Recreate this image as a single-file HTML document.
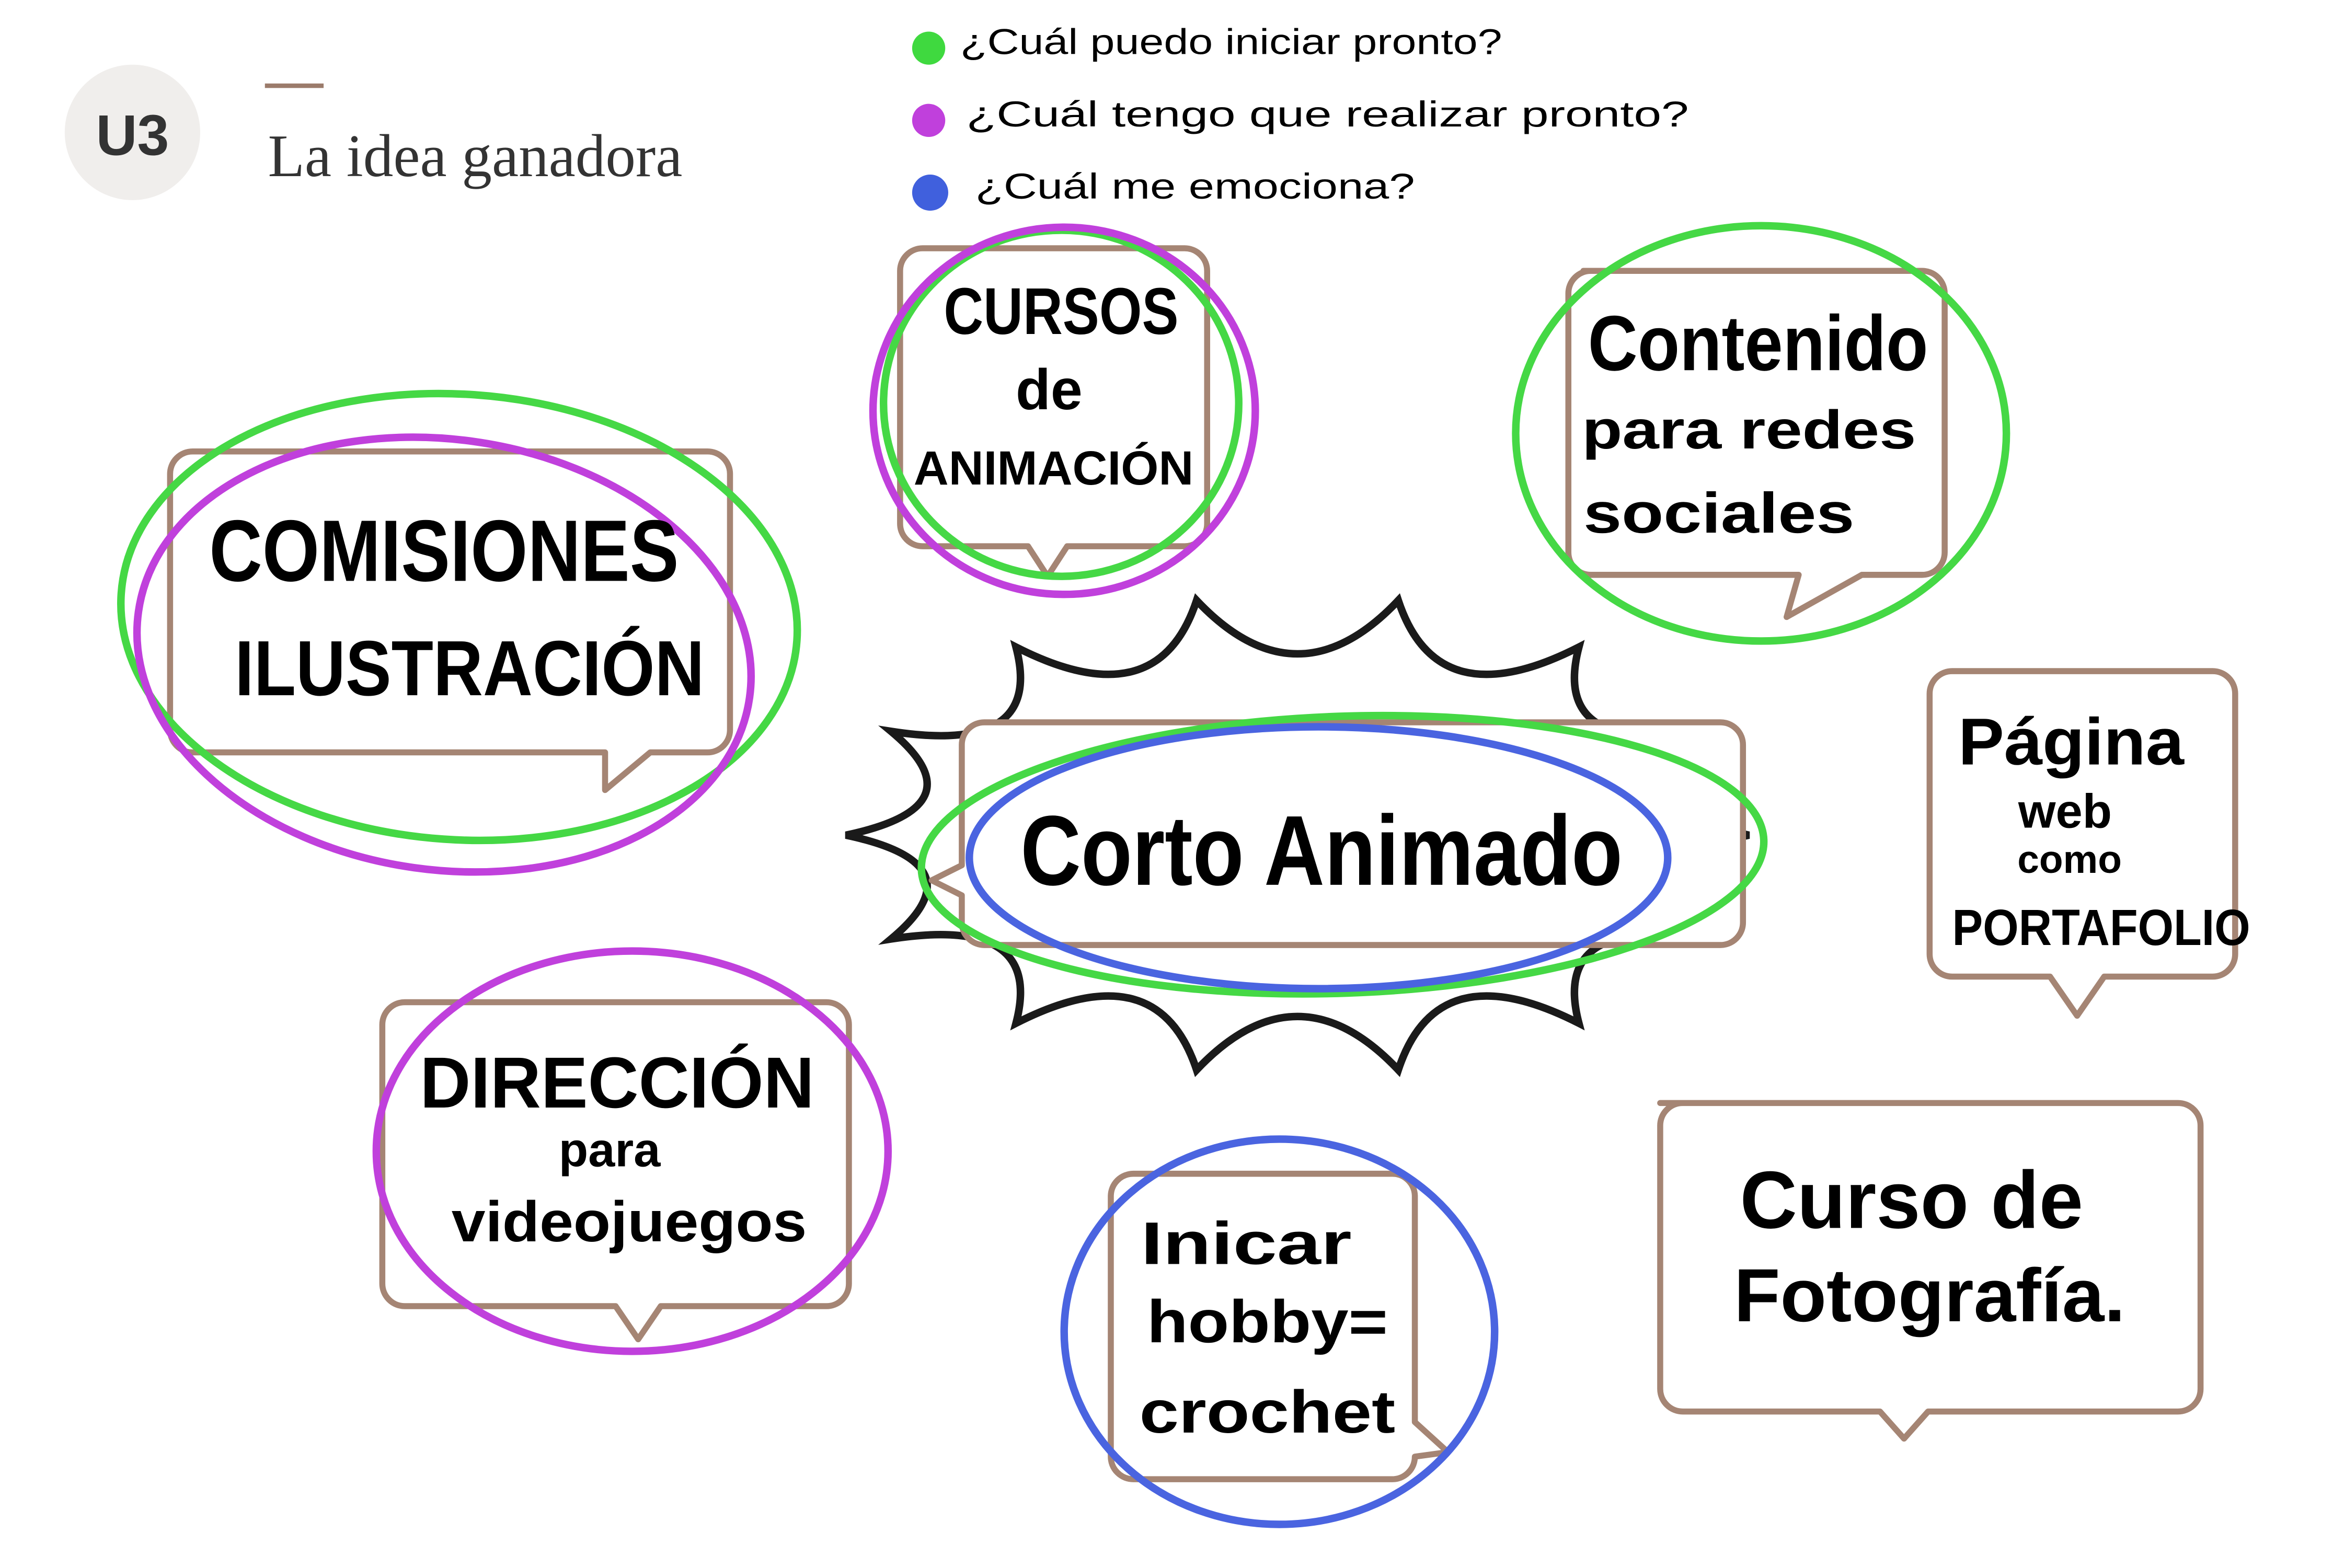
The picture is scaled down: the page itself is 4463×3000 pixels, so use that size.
<!DOCTYPE html>
<html><head><meta charset="utf-8"><style>
html,body{margin:0;padding:0;background:#fff;}
svg{display:block;}
.h{font-family:"Liberation Sans","DejaVu Sans",sans-serif;font-weight:bold;fill:#000;text-anchor:middle;}
.l{font-family:"Liberation Sans Narrow","Liberation Sans",sans-serif;fill:#000;font-size:24px;}
.box{fill:#fff;stroke:#a58574;stroke-width:4;stroke-linejoin:round;}
.e{fill:none;stroke-width:5;}
</style></head><body>
<svg width="4463" height="3000" viewBox="0 0 1550 1042" preserveAspectRatio="none" xmlns="http://www.w3.org/2000/svg">
<rect width="1550" height="1042" fill="#fff"/>
<!-- header -->
<circle cx="88" cy="88" r="45" fill="#f0eeec"/>
<text x="88" y="103" font-family="Liberation Sans,sans-serif" font-weight="bold" font-size="38" fill="#333" text-anchor="middle">U3</text>
<line x1="176" y1="57" x2="215" y2="57" stroke="#9b7b6b" stroke-width="3"/>
<text x="178" y="117" font-family="Liberation Serif,serif" font-size="40" fill="#333">La idea ganadora</text>
<!-- legend -->
<ellipse cx="617" cy="32" rx="11" ry="11" fill="#3fd93f"/>
<ellipse cx="617" cy="80" rx="11" ry="11" fill="#c040dc"/>
<ellipse cx="618" cy="128" rx="12" ry="12" fill="#4060dd"/>
<text class="l" x="638" y="36" textLength="360" lengthAdjust="spacingAndGlyphs">¿Cuál puedo iniciar pronto?</text>
<text class="l" x="642" y="84" textLength="480" lengthAdjust="spacingAndGlyphs">¿Cuál tengo que realizar pronto?</text>
<text class="l" x="648" y="132" textLength="292" lengthAdjust="spacingAndGlyphs">¿Cuál me emociona?</text>

<!-- starburst -->
<path d="M1162,555 Q1072,574 1132,624 Q1030,608 1049,680 Q955,632 929,711 Q862,640 795,711 Q769,632 675,680 Q694,608 592,624 Q652,574 562,555 Q652,536 592,486 Q694,502 675,430 Q769,478 795,399 Q862,470 929,399 Q955,478 1049,430 Q1030,502 1132,486 Q1072,536 1162,555 Z" fill="none" stroke="#1a1a1a" stroke-width="5" stroke-linejoin="miter"/>

<!-- boxes -->
<path class="box" d="M613,165 h174 a15,15 0 0 1 15,15 v168 a15,15 0 0 1 -15,15 h-78 l-13,20 l-13,-20 h-70 a15,15 0 0 1 -15,-15 v-168 a15,15 0 0 1 15,-15z"/>
<path class="box" d="M128,300 h342 a15,15 0 0 1 15,15 v170 a15,15 0 0 1 -15,15 h-38 l-30,25 v-25 h-274 a15,15 0 0 1 -15,-15 v-170 a15,15 0 0 1 15,-15z"/>
<path class="box" d="M1052,180 h225 a15,15 0 0 1 15,15 v172 a15,15 0 0 1 -15,15 h-40 l-50,28 l8,-28 h-138 a15,15 0 0 1 -15,-15 v-172 a15,15 0 0 1 15,-15z"/>
<path class="box" d="M654,480 h489 a15,15 0 0 1 15,15 v118 a15,15 0 0 1 -15,15 h-489 a15,15 0 0 1 -15,-15 v-18 l-20,-10 l20,-10 v-80 a15,15 0 0 1 15,-15z"/>
<path class="box" d="M1297,446 h173 a15,15 0 0 1 15,15 v173 a15,15 0 0 1 -15,15 h-72 l-18,26 l-18,-26 h-65 a15,15 0 0 1 -15,-15 v-173 a15,15 0 0 1 15,-15z"/>
<path class="box" d="M269,666 h280 a15,15 0 0 1 15,15 v172 a15,15 0 0 1 -15,15 h-110 l-15,22 l-15,-22 h-140 a15,15 0 0 1 -15,-15 v-172 a15,15 0 0 1 15,-15z"/>
<path class="box" d="M753,780 h172 a15,15 0 0 1 15,15 v150 l22,20 l-22,3 v0 a15,15 0 0 1 -15,15 h-172 a15,15 0 0 1 -15,-15 v-173 a15,15 0 0 1 15,-15z"/>
<path class="box" d="M1103,733 h344 a15,15 0 0 1 15,15 v175 a15,15 0 0 1 -15,15 h-166 l-16,18 l-16,-18 h-131 a15,15 0 0 1 -15,-15 v-175 a15,15 0 0 1 15,-15z"/>

<!-- ellipses -->
<ellipse class="e" cx="705" cy="268" rx="118" ry="115" stroke="#45d845"/>
<ellipse class="e" cx="707" cy="273" rx="127" ry="122" stroke="#c040dc"/>
<ellipse class="e" cx="305" cy="410" rx="225" ry="148" stroke="#45d845" transform="rotate(4 305 410)"/>
<ellipse class="e" cx="295" cy="435" rx="205" ry="143" stroke="#c040dc" transform="rotate(8 295 435)"/>
<ellipse class="e" cx="1170" cy="288" rx="163" ry="138" stroke="#45d845"/>
<ellipse class="e" cx="892" cy="568" rx="280" ry="92" stroke="#45d845" transform="rotate(-2 892 568)"/>
<ellipse class="e" cx="876" cy="570" rx="232" ry="87" stroke="#4a64e0"/>
<ellipse class="e" cx="420" cy="765" rx="170" ry="133" stroke="#c040dc"/>
<ellipse class="e" cx="850" cy="885" rx="143" ry="128" stroke="#4a64e0"/>

<!-- text -->
<text class="h" x="705" y="222" font-size="44" textLength="156" lengthAdjust="spacingAndGlyphs">CURSOS</text>
<text class="h" x="697" y="272" font-size="38">de</text>
<text class="h" x="700" y="322" font-size="32" textLength="186" lengthAdjust="spacingAndGlyphs">ANIMACIÓN</text>
<text class="h" x="295" y="386" font-size="58" textLength="312" lengthAdjust="spacingAndGlyphs">COMISIONES</text>
<text class="h" x="312" y="462" font-size="52" textLength="312" lengthAdjust="spacingAndGlyphs">ILUSTRACIÓN</text>
<text class="h" x="1168" y="246" font-size="52" textLength="226" lengthAdjust="spacingAndGlyphs">Contenido</text>
<text class="h" x="1162" y="298" font-size="36" textLength="222" lengthAdjust="spacingAndGlyphs">para redes</text>
<text class="h" x="1142" y="354" font-size="38" textLength="180" lengthAdjust="spacingAndGlyphs">sociales</text>
<text class="h" x="878" y="588" font-size="66" textLength="400" lengthAdjust="spacingAndGlyphs">Corto Animado</text>
<text class="h" x="1376" y="508" font-size="44" textLength="150" lengthAdjust="spacingAndGlyphs">Página</text>
<text class="h" x="1372" y="550" font-size="32">web</text>
<text class="h" x="1375" y="580" font-size="26">como</text>
<text class="h" x="1396" y="628" font-size="34" textLength="198" lengthAdjust="spacingAndGlyphs">PORTAFOLIO</text>
<text class="h" x="410" y="736" font-size="48" textLength="262" lengthAdjust="spacingAndGlyphs">DIRECCIÓN</text>
<text class="h" x="405" y="775" font-size="32">para</text>
<text class="h" x="418" y="825" font-size="38" textLength="236" lengthAdjust="spacingAndGlyphs">videojuegos</text>
<text class="h" x="828" y="840" font-size="40" textLength="140" lengthAdjust="spacingAndGlyphs">Inicar</text>
<text class="h" x="842" y="892" font-size="40" textLength="160" lengthAdjust="spacingAndGlyphs">hobby=</text>
<text class="h" x="842" y="952" font-size="40" textLength="170" lengthAdjust="spacingAndGlyphs">crochet</text>
<text class="h" x="1270" y="816" font-size="54" textLength="228" lengthAdjust="spacingAndGlyphs">Curso de</text>
<text class="h" x="1282" y="878" font-size="50" textLength="260" lengthAdjust="spacingAndGlyphs">Fotografía.</text>
</svg>
</body></html>
